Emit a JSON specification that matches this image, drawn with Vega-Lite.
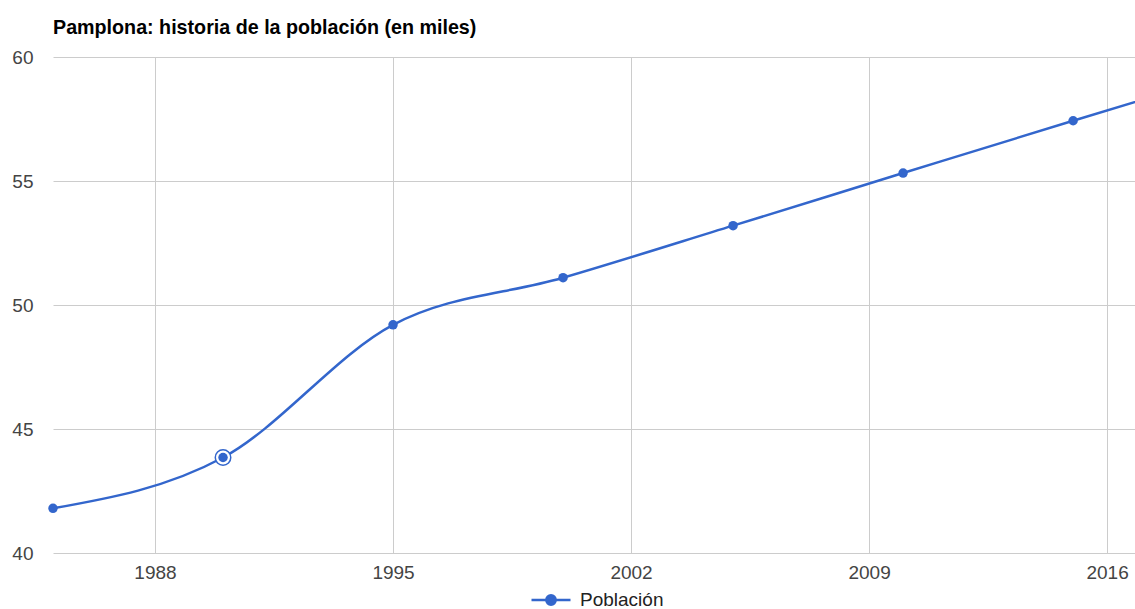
{
  "$schema": "https://vega.github.io/schema/vega-lite/v6.json",
  "autosize": "none",
  "width": 1082,
  "height": 496,
  "padding": {"left": 53, "top": 57, "right": 0, "bottom": 56},
  "background": "white",
  "config": {
    "font": "Liberation Sans",
    "view": {"stroke": null}
  },
  "title": {
    "text": "Pamplona: historia de la población (en miles)",
    "anchor": "start",
    "frame": "group",
    "font": "Liberation Sans",
    "fontSize": 19.7,
    "fontWeight": "bold",
    "color": "#000000",
    "offset": 10
  },
  "data": {
    "values": [
      {"year": 1985, "pop": 41.8},
      {"year": 1990, "pop": 43.85},
      {"year": 1995, "pop": 49.2},
      {"year": 2000, "pop": 51.1},
      {"year": 2005, "pop": 53.2},
      {"year": 2010, "pop": 55.32},
      {"year": 2015, "pop": 57.43},
      {"year": 2020, "pop": 59.5}
    ]
  },
  "encoding": {
    "x": {
      "field": "year",
      "type": "quantitative",
      "scale": {"domain": [1985, 2016.82], "nice": false, "zero": false},
      "axis": {
        "title": null,
        "values": [1988, 1995, 2002, 2009, 2016],
        "format": "d",
        "domain": false,
        "ticks": false,
        "labelPadding": 10,
        "labelFontSize": 19,
        "labelColor": "#444444",
        "gridColor": "#cccccc",
        "gridWidth": 1,
        "labelFlush": false
      }
    },
    "y": {
      "field": "pop",
      "type": "quantitative",
      "scale": {"domain": [40, 60], "nice": false, "zero": false},
      "axis": {
        "title": null,
        "values": [40, 45, 50, 55, 60],
        "domain": false,
        "ticks": false,
        "labelPadding": 20,
        "labelFontSize": 19,
        "labelColor": "#444444",
        "gridColor": "#cccccc",
        "gridWidth": 1
      }
    }
  },
  "layer": [
    {
      "mark": {"type": "line", "interpolate": "monotone", "strokeWidth": 2.5, "clip": true},
      "encoding": {
        "color": {
          "datum": "Población",
          "type": "nominal",
          "scale": {"range": ["#3366CC"]},
          "legend": {
            "title": null,
            "orient": "none",
            "legendX": 477,
            "legendY": 522,
            "symbolType": "M-1,0H1M-0.24,0A0.24,0.24,0,1,1,0.24,0A0.24,0.24,0,1,1,-0.24,0Z",
            "symbolSize": 1521,
            "symbolStrokeWidth": 2.5,
            "symbolFillColor": "#3366CC",
            "symbolStrokeColor": "#3366CC",
            "labelFontSize": 19,
            "labelColor": "#222222",
            "labelOffset": 8,
            "padding": 0
          }
        }
      }
    },
    {
      "transform": [{"filter": "datum.year == 1990"}],
      "mark": {"type": "point", "filled": true, "fill": "white", "stroke": "#3366CC", "strokeWidth": 1.5, "size": 240, "shape": "circle", "opacity": 1}
    },
    {
      "transform": [{"filter": "datum.year <= 2015"}],
      "mark": {"type": "point", "filled": true, "color": "#3366CC", "size": 90, "opacity": 1}
    }
  ]
}
